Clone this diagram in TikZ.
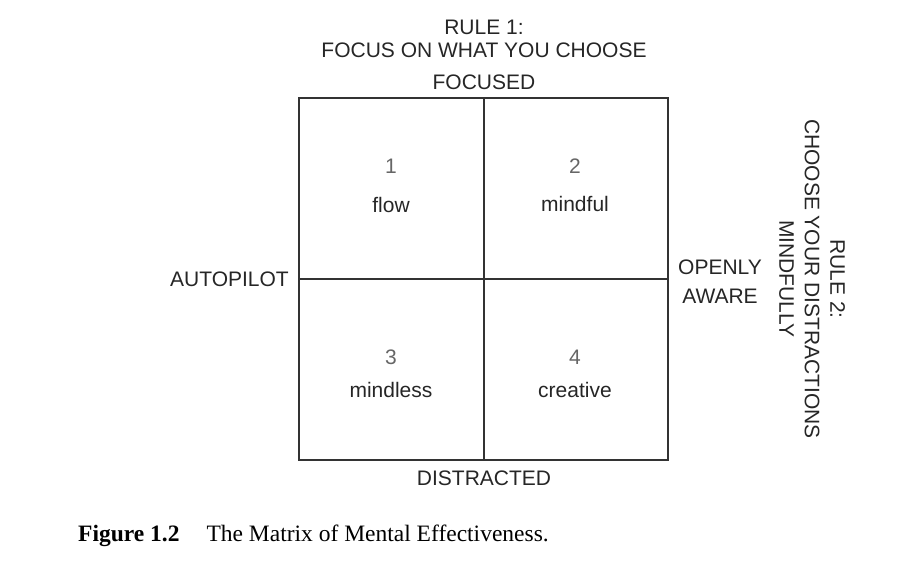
\documentclass[tikz,border=0pt]{standalone}
\usepackage{fontspec}
\setmainfont{Liberation Sans}
\newfontfamily\capfont{Liberation Serif}
\begin{document}
\begin{tikzpicture}[x=1pt,y=-1pt,
  lbl/.style={font=\fontsize{21}{23}\selectfont, text=black!85, inner sep=0pt, align=center},
  num/.style={font=\fontsize{21}{23}\selectfont, text=black!60, inner sep=0pt},
  frame/.style={draw=black!80, line width=1.1pt}]
\useasboundingbox (0,0) rectangle (903,568);
\coordinate (tl) at (299,98);
\coordinate (br) at (668,460);
\coordinate (tm) at (484,98);
\coordinate (bm) at (484,460);
\coordinate (lm) at (299,279);
\coordinate (rm) at (668,279);
\draw[frame] (tl) rectangle (br);
\draw[frame] (tm) -- (bm);
\draw[frame] (lm) -- (rm);
\node[lbl] (rule1) at (484,27) {RULE 1:};
\node[lbl] (focus) at (484,50) {FOCUS ON WHAT YOU CHOOSE};
\node[lbl] (focused) at (484,82) {FOCUSED};
\node[lbl] (distracted) at (484,478) {DISTRACTED};
\node[lbl, anchor=east] (autopilot) at (289,279) {AUTOPILOT};
\node[lbl, font=\fontsize{21}{29}\selectfont] (openly) at (720,282) {OPENLY\\AWARE};
\node[lbl, rotate=-90, font=\fontsize{21}{25.5}\selectfont] (rule2) at (812,279) {RULE 2:\\CHOOSE YOUR DISTRACTIONS\\MINDFULLY};
\node[num] (n1) at (391,166) {1};
\node[lbl] (q1) at (391,205) {flow};
\node[num] (n2) at (575,166) {2};
\node[lbl] (q2) at (575,204) {mindful};
\node[num] (n3) at (391,357) {3};
\node[lbl] (q3) at (391,390) {mindless};
\node[num] (n4) at (575,357) {4};
\node[lbl] (q4) at (575,390) {creative};
\node[anchor=west, inner sep=0pt, font=\capfont\fontsize{23.5}{26}\selectfont] (cap) at (78,536) {\textbf{Figure 1.2}\hspace{27pt}The Matrix of Mental Effectiveness.};
\end{tikzpicture}
\end{document}
